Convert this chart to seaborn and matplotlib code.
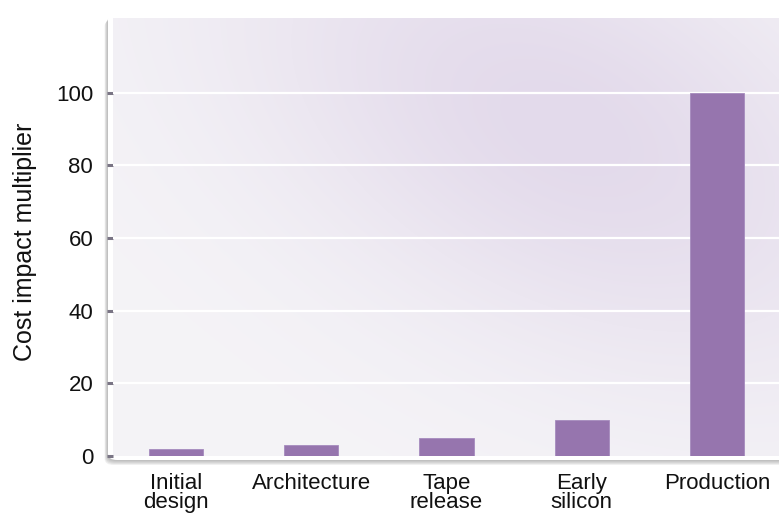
import numpy as np
import pandas as pd
import matplotlib
matplotlib.use("Agg")
import matplotlib.pyplot as plt
from matplotlib.patches import FancyBboxPatch
from matplotlib.colors import to_rgb
import seaborn as sns

stages = ["Initial\ndesign", "Architecture", "Tape\nrelease", "Early\nsilicon", "Production"]
multipliers = [2, 3, 5, 10, 100]
y_ticks = [0, 20, 40, 60, 80, 100]

df = pd.DataFrame({"stage": stages, "mult": multipliers})

sns.set_style("white")
plt.rcParams["font.family"] = ["Liberation Sans", "DejaVu Sans"]

W, H = 779, 513
fig = plt.figure(figsize=(W / 100, H / 100), dpi=100)
fig.patch.set_facecolor("white")

def px(x, y):
    return x / W, 1 - y / H

# panel: white rounded card with soft shadow
left_px, top_px, right_px, bot_px = 108, 13, 800, 460
for i, a in enumerate([0.05, 0.05, 0.05, 0.06, 0.06]):
    off = 1 + i
    x0, y0 = px(left_px - 1 - i * 0.6, bot_px + off)
    x1, y1 = px(right_px, top_px + off + 2)
    fig.patches.append(FancyBboxPatch((x0, y0), x1 - x0, y1 - y0,
                                      boxstyle="round,pad=0,rounding_size=0.012",
                                      transform=fig.transFigure, facecolor="black",
                                      edgecolor="none", alpha=a, zorder=0))
x0, y0 = px(left_px, bot_px)
x1, y1 = px(right_px, top_px)
fig.patches.append(FancyBboxPatch((x0, y0), x1 - x0, y1 - y0,
                                  boxstyle="round,pad=0,rounding_size=0.012",
                                  transform=fig.transFigure, facecolor="white",
                                  edgecolor="none", zorder=1))

# axes
ax_l, ax_t, ax_r, ax_b = 113, 18, 779, 456
ax = fig.add_axes([ax_l / W, 1 - ax_b / H, (ax_r - ax_l) / W, (ax_b - ax_t) / H])
ax.set_facecolor("none")
ax.set_zorder(2)

# gradient background
ny, nx = 200, 300
xx, yy = np.meshgrid(np.linspace(0, 1, nx), np.linspace(1, 0, ny))
u = (xx - 0.68) * 0.8 + (yy - 0.75) * 0.6
v = -(xx - 0.68) * 0.6 + (yy - 0.75) * 0.8
w = np.exp(-(u ** 2) / (2 * 0.28 ** 2) - (v ** 2) / (2 * 0.45 ** 2))
c_light = np.array(to_rgb("#F5F4F7"))
c_purple = np.array(to_rgb("#E3DAEB"))
img = c_light[None, None, :] * (1 - w[..., None]) + c_purple[None, None, :] * w[..., None]
ax.imshow(img, extent=[0, 1, 0, 1], transform=ax.transAxes, aspect="auto",
          zorder=0, interpolation="bilinear")

sns.barplot(data=df, x="stage", y="mult", color="#9675AE", width=0.4,
            saturation=1, ax=ax, zorder=3, edgecolor="#A68BBE", linewidth=0.6)

spacing = 135.25
c0 = 176
ax.set_xlim((ax_l - c0) / spacing, (ax_r - c0) / spacing)
ax.set_ylim(0, (ax_b - ax_t) / 3.633)
ax.set_yticks(y_ticks)
for t in y_ticks[1:]:
    ax.axhline(t, color="white", lw=1.6, zorder=1)

for s in ax.spines.values():
    s.set_visible(False)

ax.tick_params(axis="y", length=4.3, width=2.2, color="#7A7585", pad=10,
               labelsize=16, labelcolor="#111111", left=True, direction="out")
ax.tick_params(axis="x", length=0, pad=12.5, labelsize=16, labelcolor="#111111")
for lab in ax.get_xticklabels():
    lab.set_linespacing(0.88)
ax.set_xlabel("")
ax.set_ylabel("Cost impact multiplier", fontsize=18, color="#111111")
ax.yaxis.set_label_coords((37 - ax_l) / (ax_r - ax_l), (ax_b - 242) / (ax_b - ax_t))

fig.savefig("out.png", dpi=100, facecolor="white")
